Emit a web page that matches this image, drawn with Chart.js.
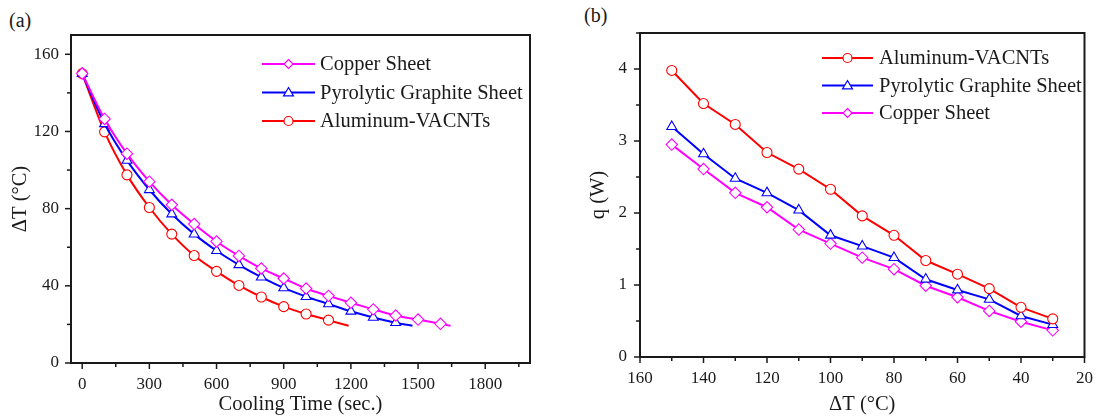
<!DOCTYPE html>
<html>
<head>
<meta charset="utf-8">
<script src="https://cdn.jsdelivr.net/npm/chart.js@4.4.1/dist/chart.umd.min.js"></script>
<style>
  html, body { margin: 0; padding: 0; background: #fff; }
  #wrap { position: relative; width: 1104px; height: 417px; }
  .panel { position: absolute; top: 0; height: 417px; }
  #pa { left: 0; width: 545px; }
  #pb { left: 545px; width: 559px; }
  .tag { position: absolute; font-family: 'Liberation Serif', serif; font-size: 20px; color: #1a1a1a; }
</style>
</head>
<body>
<div id="wrap">
  <div class="tag" style="left:9px; top:9px;">(a)</div>
  <div class="tag" style="left:584px; top:4px;">(b)</div>
  <div class="panel" id="pa"><canvas id="chartA" width="545" height="417"></canvas></div>
  <div class="panel" id="pb"><canvas id="chartB" width="559" height="417"></canvas></div>
</div>
<script>
// (a) cooling curves
const timeCopper = [0, 100, 200, 300, 400, 500, 600, 700, 800, 900, 1000, 1100, 1200, 1300, 1400, 1500, 1600, 1645];
const dtCopper   = [150, 126.5, 108.5, 94, 82, 72, 63, 55.5, 49, 43.8, 38.6, 34.8, 31.2, 27.8, 24.6, 22.5, 20.3, 19.3];
const timePgs    = [0, 100, 200, 300, 400, 500, 600, 700, 800, 900, 1000, 1100, 1200, 1300, 1400, 1475];
const dtPgs      = [150, 124, 105, 89.8, 77.2, 66.8, 58.2, 50.9, 44.5, 38.9, 34.4, 30.6, 26.8, 23.6, 20.9, 19.3];
const timeAl     = [0, 100, 200, 300, 400, 500, 600, 700, 800, 900, 1000, 1100, 1190];
const dtAl       = [150, 119.8, 97.5, 80.6, 66.8, 55.7, 47.5, 40.2, 34.2, 29.2, 25.4, 22.2, 19.3];
const xTicksA = [0, 300, 600, 900, 1200, 1500, 1800];
const yTicksA = [0, 40, 80, 120, 160];

// (b) heat flow vs delta T
const dtB    = [150, 140, 130, 120, 110, 100, 90, 80, 70, 60, 50, 40, 30];
const qAl    = [3.98, 3.52, 3.23, 2.84, 2.61, 2.33, 1.96, 1.69, 1.34, 1.15, 0.95, 0.69, 0.53];
const qPgs   = [3.20, 2.82, 2.48, 2.28, 2.04, 1.69, 1.54, 1.38, 1.08, 0.93, 0.80, 0.57, 0.45];
const qCu    = [2.95, 2.61, 2.28, 2.08, 1.77, 1.575, 1.38, 1.22, 0.99, 0.83, 0.64, 0.49, 0.37];
const xTicksB = [160, 140, 120, 100, 80, 60, 40, 20];
const yTicksB = [0, 1, 2, 3, 4];

const RED = '#ff0000', BLUE = '#0000ff', MAG = '#ff00ff', INK = '#1a1a1a';
const FONT = "'Liberation Serif', serif";

function pts(xs, ys) { return xs.map((x, i) => ({ x: x, y: ys[i] })); }

function drawMarker(ctx, style, x, y, r) {
  ctx.beginPath();
  if (style === 'circle') {
    ctx.arc(x, y, r, 0, Math.PI * 2);
  } else if (style === 'triangle') {
    ctx.moveTo(x, y - r * 1.1);
    ctx.lineTo(x + r * 1.1, y + r * 0.75);
    ctx.lineTo(x - r * 1.1, y + r * 0.75);
    ctx.closePath();
  } else {
    ctx.moveTo(x, y - r);
    ctx.lineTo(x + r, y);
    ctx.lineTo(x, y + r);
    ctx.lineTo(x - r, y);
    ctx.closePath();
  }
  ctx.fill();
  ctx.stroke();
}

// box frame, outward ticks (major + minor) and the in-plot legend
const framePlugin = {
  id: 'frame',
  afterDatasetsDraw(chart, args, opts) {
    const { ctx, chartArea: a, scales } = chart;
    ctx.save();
    ctx.strokeStyle = INK;
    ctx.lineWidth = 2;
    ctx.strokeRect(a.left, a.top, a.right - a.left, a.bottom - a.top);

    ctx.lineWidth = 1.5;
    const tickSet = (scale, majors, horizontal) => {
      const step = majors[1] - majors[0];
      const minors = [];
      for (let i = -1; i < majors.length; i++) minors.push(majors[0] + step * (i + 0.5));
      const lo = Math.min(scale.min, scale.max), hi = Math.max(scale.min, scale.max);
      const mark = (v, len) => {
        if (v < lo - 1e-9 || v > hi + 1e-9) return;
        const p = scale.getPixelForValue(v);
        ctx.beginPath();
        if (horizontal) { ctx.moveTo(p, a.bottom); ctx.lineTo(p, a.bottom + len); }
        else { ctx.moveTo(a.left, p); ctx.lineTo(a.left - len, p); }
        ctx.stroke();
      };
      majors.forEach(v => mark(v, 6));
      minors.forEach(v => mark(v, 4));
    };
    tickSet(scales.x, opts.xMajor, true);
    tickSet(scales.y, opts.yMajor, false);

    // legend
    const L = opts.legend;
    ctx.font = '20.5px ' + FONT;
    ctx.textBaseline = 'middle';
    chart.data.datasets.forEach((ds, i) => {
      const y = L.y0 + i * L.dy;
      ctx.strokeStyle = ds.borderColor;
      ctx.lineWidth = 2;
      ctx.beginPath();
      ctx.moveTo(L.x0, y);
      ctx.lineTo(L.x1, y);
      ctx.stroke();
      ctx.fillStyle = '#fff';
      ctx.lineWidth = 1.2;
      drawMarker(ctx, ds.pointStyle, (L.x0 + L.x1) / 2, y, 4.5);
      ctx.fillStyle = INK;
      ctx.fillText(ds.label, L.tx, y + 1);
    });
    ctx.restore();
  }
};

function series(label, data, color, style, smooth) {
  const last = data.length - 1;
  const r = style === 'circle' ? 5 : 5.7;
  return {
    label: label,
    data: data,
    borderColor: color,
    backgroundColor: '#fff',
    borderWidth: 2,
    pointStyle: style,
    pointRadius: smooth ? (c => c.dataIndex === last ? 0 : r) : r,
    pointBorderWidth: 1.1,
    pointBackgroundColor: '#fff',
    pointBorderColor: color,
    cubicInterpolationMode: smooth ? 'monotone' : 'default',
    tension: 0
  };
}

function axisOpts(o) {
  return {
    type: 'linear',
    min: o.min, max: o.max, reverse: !!o.reverse,
    afterBuildTicks: s => { s.ticks = o.ticks.map(v => ({ value: v })); },
    afterFit: s => { if (o.width) s.width = o.width; if (o.height) s.height = o.height; },
    grid: { display: false, drawTicks: false },
    border: { display: false },
    ticks: { font: { family: FONT, size: 17 }, color: INK, padding: o.pad, autoSkip: false, maxRotation: 0,
             callback: v => String(v) },
    title: { display: true, text: o.title, color: INK, font: { family: FONT, size: 20.5 }, padding: o.tpad }
  };
}

const common = {
  responsive: false,
  animation: false,
  events: [],
  plugins: { legend: { display: false }, tooltip: { enabled: false } }
};

new Chart(document.getElementById('chartA'), {
  type: 'line',
  data: {
    datasets: [
      series('Copper Sheet', pts(timeCopper, dtCopper), MAG, 'rectRot', true),
      series('Pyrolytic Graphite Sheet', pts(timePgs, dtPgs), BLUE, 'triangle', true),
      series('Aluminum-VACNTs', pts(timeAl, dtAl), RED, 'circle', true)
    ]
  },
  options: Object.assign({}, common, {
    layout: { padding: { top: 35, right: 15, left: 0, bottom: 0 } },
    scales: {
      x: axisOpts({ min: -50, max: 2000, ticks: xTicksA, height: 54, pad: 11, title: 'Cooling Time (sec.)', tpad: { top: 0, bottom: 0 } }),
      y: axisOpts({ min: 0, max: 170, ticks: yTicksA, width: 71, pad: 12, title: 'ΔT (°C)', tpad: { top: 8, bottom: 0 } })
    },
    plugins: Object.assign({}, common.plugins, {
      frame: { xMajor: xTicksA, yMajor: yTicksA, legend: { x0: 262, x1: 315, tx: 320, y0: 64, dy: 28.5 } }
    })
  }),
  plugins: [framePlugin]
});

new Chart(document.getElementById('chartB'), {
  type: 'line',
  data: {
    datasets: [
      series('Aluminum-VACNTs', pts(dtB, qAl), RED, 'circle', false),
      series('Pyrolytic Graphite Sheet', pts(dtB, qPgs), BLUE, 'triangle', false),
      series('Copper Sheet', pts(dtB, qCu), MAG, 'rectRot', false)
    ]
  },
  options: Object.assign({}, common, {
    layout: { padding: { top: 33, right: 9, left: 0, bottom: 0 } },
    scales: {
      x: axisOpts({ min: 20, max: 160, reverse: true, ticks: xTicksB, height: 60, pad: 11, title: 'ΔT (°C)', tpad: { top: 0, bottom: 0 } }),
      y: axisOpts({ min: 0, max: 4.5, ticks: yTicksB, width: 95, pad: 13, title: 'q (W)', tpad: { top: 41, bottom: 0 } })
    },
    plugins: Object.assign({}, common.plugins, {
      frame: { xMajor: xTicksB, yMajor: yTicksB, legend: { x0: 277, x1: 328, tx: 334, y0: 58, dy: 27.5 } }
    })
  }),
  plugins: [framePlugin]
});
</script>
</body>
</html>
